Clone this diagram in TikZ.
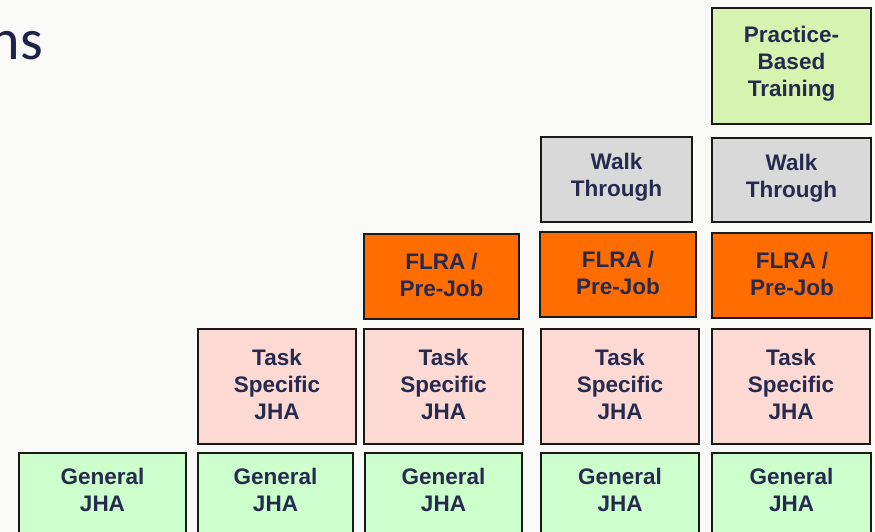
\documentclass[tikz,border=0pt]{standalone}
\usepackage{fontspec}
\setmainfont{Liberation Sans}
\newfontfamily\titlefont{Carlito}
\definecolor{pagebg}{RGB}{250,250,249}
\definecolor{navy}{RGB}{38,42,78}
\definecolor{titlenavy}{RGB}{30,34,72}
\definecolor{genfill}{RGB}{204,255,204}
\definecolor{taskfill}{RGB}{253,217,211}
\definecolor{flrafill}{RGB}{255,108,0}
\definecolor{walkfill}{RGB}{217,217,217}
\definecolor{pbtfill}{RGB}{215,243,176}
\tikzset{
  x=1pt, y=-1pt,
  blk/.style={draw=black!90, line width=1.5pt, inner sep=0pt},
  lbl/.style={font=\bfseries\fontsize{22.5}{27}\selectfont, text=navy, align=center, inner sep=0pt},
}
% box from corner (x1,y1) to (x2,y2) with a label centred, shifted by dy
\newcommand\stepblock[7]{%
  \node[blk, fill=#2, minimum width={#5-#3}, minimum height={#6-#4}]
    (#1) at ({(#3+#5)/2},{(#4+#6)/2}) {};
  \node[lbl] (#1l) at ([yshift=2pt]#1.center) {#7};}
\begin{document}
\begin{tikzpicture}
\useasboundingbox (0,0) rectangle (875,532);
\clip (0,0) rectangle (875,532);
\fill[pagebg] (0,0) rectangle (875,532);

% cut-off heading
\node[anchor=base east, font=\titlefont\fontsize{58}{60}\selectfont, text=titlenavy, inner sep=0pt] (head) at (43,60) {ns};

% column 5 top
\stepblock{pbt}{pbtfill}{712}{8}{871}{124}{Practice-\\Based\\Training}

% walk through
\stepblock{walkd}{walkfill}{541}{137}{692}{222}{Walk\\Through}
\stepblock{walke}{walkfill}{712}{138}{871}{222}{Walk\\Through}

% FLRA / pre-job
\stepblock{flrac}{flrafill}{364}{234}{519}{319}{FLRA /\\Pre-Job}
\stepblock{flrad}{flrafill}{540}{232}{696}{317}{FLRA /\\Pre-Job}
\stepblock{flrae}{flrafill}{712}{233}{872}{318}{FLRA /\\Pre-Job}

% task specific JHA
\stepblock{taskb}{taskfill}{198}{329}{356}{444}{Task\\Specific\\JHA}
\stepblock{taskc}{taskfill}{364}{329}{523}{444}{Task\\Specific\\JHA}
\stepblock{taskd}{taskfill}{541}{329}{699}{444}{Task\\Specific\\JHA}
\stepblock{taske}{taskfill}{712}{329}{870}{444}{Task\\Specific\\JHA}

% general JHA (running past the lower edge)
\foreach \nm/\xa/\xb in {gena/19/186, genb/198/353, genc/365/522, gend/541/699, gene/712/871}{
  \node[blk, fill=genfill, minimum width={\xb-\xa}, minimum height=110]
    (\nm) at ({(\xa+\xb)/2},508) {};
  \node[lbl] (\nm l) at ([yshift=-38]\nm.north) {General\\JHA};
}
\end{tikzpicture}
\end{document}
